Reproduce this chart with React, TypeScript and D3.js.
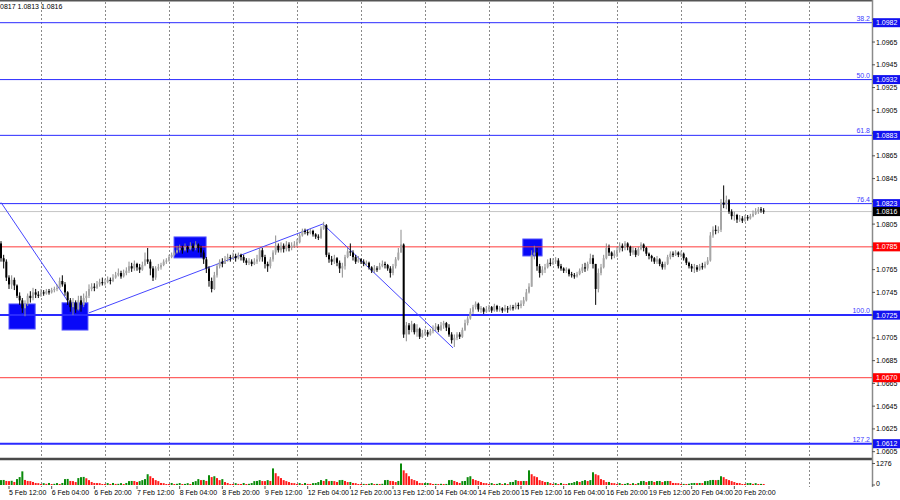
import React from "react";
import * as d3 from "d3";

// prices stored as pips above BASE
const BASE = 1.07;
const FIRST_OPEN = 88;
const CLOSES = [
  75,72,58,52,56,51,42,38,31,35,42,40,45,43,42,
  45,44,46,45,47,48,49,55,52,45,38,32,36,30,38,34,40,42,48,50,49,52,54,53,
  54,56,55,58,60,62,59,62,64,68,66,70,67,65,69,74,72,66,58,66,67,69,72,73,
  76,78,80,82,84,82,85,83,86,84,87,84,80,74,66,55,48,60,68,72,70,74,76,75,
  77,75,78,76,73,71,72,70,72,74,82,76,70,68,74,80,86,82,86,83,87,84,86,87,
  89,95,99,98,97,99,96,94,93,101,104,78,74,72,75,71,66,68,76,81,80,76,72,74,
  72,70,71,67,64,66,65,68,70,69,66,62,68,74,80,87,8,16,12,17,10,13,6,9,
  10,8,11,13,15,12,16,18,14,8,3,5,8,6,12,18,22,28,32,35,30,31,28,30,
  32,29,33,30,31,29,31,30,32,31,34,33,35,38,45,50,78,80,68,62,65,67,71,70,
  72,73,68,66,64,65,61,60,59,61,64,67,66,70,75,70,48,62,67,75,84,80,77,79,
  82,86,84,88,85,80,82,78,83,87,84,79,77,75,72,74,70,67,70,76,79,78,80,78,
  79,75,71,68,66,67,65,68,67,70,73,95,100,99,100,124,122,126,116,112,113,109,110,108,
  111,110,112,114,116,118,117,116,
];
const HIGHS = [
  90,78,74,60,60,58,52,45,40,38,44,46,49,48,46,
  48,47,48,48,49,50,52,58,60,54,46,40,40,38,42,42,44,46,52,53,53,55,57,58,
  57,59,58,61,63,66,64,65,67,72,71,73,71,70,72,80,84,74,68,68,70,71,74,75,
  78,80,82,86,87,86,88,86,89,88,90,88,86,82,76,68,58,63,70,74,75,77,79,78,
  80,79,80,79,78,75,75,74,75,78,84,84,78,72,76,82,95,88,89,88,90,89,89,90,
  92,97,101,101,100,101,100,97,96,103,107,105,80,77,78,76,73,71,78,84,88,82,78,77,
  75,74,73,72,68,69,68,71,73,72,70,68,70,76,84,100,88,19,18,20,18,17,14,12,
  13,12,13,16,18,17,19,20,19,17,10,8,10,10,14,21,24,31,34,37,36,33,32,33,
  34,33,35,34,33,32,34,33,34,34,36,36,38,41,48,53,82,86,84,70,68,70,74,75,
  75,76,75,70,67,67,66,63,62,63,66,70,71,72,79,78,70,66,70,78,88,87,81,82,
  85,89,88,90,89,86,85,84,85,89,88,85,80,78,76,77,75,72,72,78,81,81,82,81,
  81,80,76,72,70,70,69,70,71,72,76,98,103,104,103,127,139,130,127,118,116,114,113,112,
  113,113,114,117,119,120,120,119,
];
const LOWS = [
  72,66,55,48,48,47,40,34,27,24,33,36,38,40,40,
  41,42,43,43,44,45,46,48,50,42,34,28,25,27,29,28,32,36,40,46,46,48,50,51,
  51,53,52,54,57,59,57,58,60,62,63,64,64,62,64,68,70,60,55,56,64,65,68,70,
  72,75,77,79,80,79,81,80,82,81,82,80,76,70,62,50,45,47,58,66,67,70,72,72,
  74,72,74,73,71,69,69,68,69,70,72,72,66,63,66,72,78,80,80,80,81,81,82,84,
  85,88,94,96,95,96,94,92,91,92,100,76,71,69,70,68,62,58,65,75,77,73,70,71,
  70,68,68,65,62,62,63,65,67,66,64,58,60,66,73,80,5,2,8,10,8,6,4,5,
  7,6,7,9,11,10,11,13,11,6,0,-3,3,4,5,11,16,21,26,30,28,27,26,27,
  28,27,28,28,28,27,28,27,29,29,30,30,31,33,37,44,50,74,64,58,60,62,66,68,
  69,70,66,64,62,62,59,58,57,58,60,62,63,64,70,66,34,45,60,66,74,77,74,75,
  76,80,81,82,82,77,78,76,77,82,81,77,74,72,70,70,68,65,65,69,74,76,77,76,
  76,73,69,66,63,62,63,64,65,66,69,72,93,96,97,98,119,118,114,109,108,106,107,106,
  107,108,109,111,113,114,115,114,
];
const VOLUMES = [
  290,300,240,230,250,180,350,470,810,300,240,230,180,120,110,
  60,110,70,120,60,70,115,60,120,350,360,240,230,175,410,465,480,400,290,180,120,115,110,60,
  60,115,60,120,65,70,110,60,120,230,240,235,180,230,290,350,640,520,410,290,230,120,110,60,
  60,120,60,70,115,60,65,110,60,175,230,350,290,300,240,580,470,520,410,290,350,175,120,60,
  60,110,65,60,120,60,70,115,230,240,290,235,230,290,240,985,700,520,410,290,230,175,120,110,
  60,115,60,120,65,60,110,120,175,290,240,350,230,240,230,180,290,300,240,175,180,120,110,60,
  60,65,60,70,115,60,65,60,70,290,300,240,230,175,240,1276,870,700,520,350,290,230,120,110,
  115,120,110,60,65,60,70,60,65,290,300,240,175,120,230,240,465,520,350,290,240,175,120,110,
  60,115,60,65,120,60,110,60,175,180,290,240,230,240,235,870,640,520,465,290,240,175,180,115,
  60,115,60,120,65,60,110,120,175,230,180,240,290,235,290,755,640,580,350,290,175,180,120,110,
  60,115,60,65,120,60,110,60,120,230,240,175,230,240,180,235,240,175,230,240,235,120,115,110,
  60,65,60,70,115,120,110,120,115,230,240,290,300,290,300,520,465,350,290,230,175,120,115,60,
  60,115,120,65,110,60,65,60,
];

const X_LABELS = [
  "5 Feb 12:00", "6 Feb 04:00", "6 Feb 20:00", "7 Feb 12:00", "8 Feb 04:00", "8 Feb 20:00",
  "9 Feb 12:00", "12 Feb 04:00", "12 Feb 20:00", "13 Feb 12:00", "14 Feb 04:00", "14 Feb 20:00",
  "15 Feb 12:00", "16 Feb 04:00", "16 Feb 20:00", "19 Feb 12:00", "20 Feb 04:00", "20 Feb 20:00",
];
const X_LABEL_BARS = [3, 19, 35, 51, 67, 83, 99, 115, 131, 147, 163, 179, 195, 211, 227, 243, 259, 275];
const DAY_START_BARS = [15, 39, 63, 87, 111, 135, 159, 183, 207, 231, 255, 279, 303];

const PRICE_TICKS = [
  1.0985, 1.0965, 1.0945, 1.0925, 1.0905, 1.0885, 1.0865, 1.0845, 1.0825, 1.0805,
  1.0785, 1.0765, 1.0745, 1.0725, 1.0705, 1.0685, 1.0665, 1.0645, 1.0625, 1.0605,
];

const FIB_PRICES = [1.0982, 1.0932, 1.0883, 1.0823, 1.0725, 1.0612];
const FIB_NAMES = ["38.2", "50.0", "61.8", "76.4", "100.0", "127.2"];
const FIB_WIDTHS = [1, 1, 1, 1, 2, 2];
const RED_PRICES = [1.0785, 1.067];
const LAST_PRICE = 1.0816;

const TREND_SEGMENTS: [number, number][][] = [
  [[0, 1.0824], [25.5, 1.07357]],
  [[33, 1.0727], [120.7, 1.08051]],
  [[120.7, 1.08051], [169.5, 1.06962]],
];
const ZONES = [
  [3.0, 12.8, 1.07348, 1.07128],
  [22.9, 32.6, 1.07358, 1.07119],
  [64.9, 76.9, 1.07937, 1.07753],
  [195.7, 202.9, 1.07919, 1.0777],
];

const HEADER = "1.0817 1.0813 1.0816";

export default function App() {
  const W = 900, H = 500, AX = 872;
  const FONT = "'Liberation Sans', Arial, sans-serif";
  const x = d3.scaleLinear().domain([0, 327]).range([1, 873]);
  const y = d3.scaleLinear().domain([1.0612, 1.0982]).range([443.7, 22.7]);
  const vy = d3.scaleLinear().domain([0, 1276]).range([485, 463.5]);
  const p = (v: number) => BASE + v / 10000;

  const candles = CLOSES.map((c, i) => {
    const o = i === 0 ? FIRST_OPEN : CLOSES[i - 1];
    return {
      i,
      o: p(o),
      c: p(c),
      h: p(Math.max(HIGHS[i], o, c)),
      l: p(Math.min(LOWS[i], o, c)),
    };
  });

  const line = d3
    .line<[number, number]>()
    .x((d) => x(d[0]))
    .y((d) => y(d[1]));

  const fmt = d3.format(".4f");

  const boxPrices = [...FIB_PRICES, ...RED_PRICES, LAST_PRICE];
  const visibleTicks = PRICE_TICKS.filter(
    (t) => !boxPrices.some((b) => Math.abs(y(t) - y(b)) < 5)
  );

  return (
    <svg
      width={W}
      height={H}
      style={{ position: "absolute", left: 0, top: 0, background: "#fff" }}
      fontFamily={FONT}
    >
      <rect x={0} y={0} width={W} height={H} fill="#fff" />
      <defs>
        <clipPath id="main">
          <rect x={0} y={0} width={AX} height={458} />
        </clipPath>
      </defs>

      {/* vertical dotted grid */}
      {DAY_START_BARS.map((b) => (
        <line
          key={"g" + b}
          x1={Math.round(x(b)) + 0.5}
          x2={Math.round(x(b)) + 0.5}
          y1={2}
          y2={487}
          stroke="#8a8a8a"
          strokeWidth={1}
          strokeDasharray="2,2"
        />
      ))}

      <g clipPath="url(#main)">
        {/* zones */}
        {ZONES.map((z, k) => (
          <rect
            key={"z" + k}
            x={x(z[0])}
            y={y(z[2])}
            width={x(z[1]) - x(z[0])}
            height={y(z[3]) - y(z[2])}
            fill="#0808f8"
            stroke="#5050ff"
            strokeWidth={1}
          />
        ))}

        {/* horizontal levels */}
        <line x1={0} x2={AX} y1={y(LAST_PRICE)} y2={y(LAST_PRICE)} stroke="#c4c4c4" strokeWidth={1} />
        {RED_PRICES.map((pr) => (
          <line key={"r" + pr} x1={0} x2={AX} y1={y(pr)} y2={y(pr)} stroke="#ff3a3a" strokeWidth={1} />
        ))}
        {FIB_PRICES.map((pr, k) => (
          <line
            key={"f" + pr}
            x1={0}
            x2={AX}
            y1={y(pr)}
            y2={y(pr)}
            stroke="#2a2aff"
            strokeWidth={FIB_WIDTHS[k]}
          />
        ))}

        {/* trend lines */}
        {TREND_SEGMENTS.map((s, k) => (
          <path key={"t" + k} d={line(s) || ""} fill="none" stroke="#4646ff" strokeWidth={1} />
        ))}

        {/* candles */}
        {candles.map((d) => {
          const bull = d.c >= d.o;
          const cx = x(d.i);
          const top = y(Math.max(d.o, d.c));
          const bot = y(Math.min(d.o, d.c));
          return (
            <g key={"c" + d.i}>
              <line
                x1={cx}
                x2={cx}
                y1={y(d.h)}
                y2={y(d.l)}
                stroke={bull ? "#8c8c8c" : "#000"}
                strokeWidth={1}
              />
              <rect
                x={cx - 1}
                y={top}
                width={2}
                height={Math.max(1, bot - top)}
                fill={bull ? "#a6a6a6" : "#000"}
              />
            </g>
          );
        })}

        {/* fib labels */}
        {FIB_PRICES.map((pr, k) => (
          <text
            key={"fl" + pr}
            x={870}
            y={y(pr) - 2}
            textAnchor="end"
            fontSize={7}
            fill="#3c3cff"
          >
            {FIB_NAMES[k]}
          </text>
        ))}
      </g>

      {/* header text */}
      <text x={-5.8} y={9} fontSize={7} fill="#000">
        {HEADER}
      </text>

      {/* frame lines */}
      <line x1={0} x2={AX} y1={0.75} y2={0.75} stroke="#555" strokeWidth={1.5} />
      <line x1={0} x2={AX} y1={459} y2={459} stroke="#4a4a4a" strokeWidth={2.5} />
      <line x1={AX + 0.5} x2={AX + 0.5} y1={0} y2={487} stroke="#8a8a8a" strokeWidth={1.5} />

      {/* price ticks */}
      {PRICE_TICKS.map((t) => (
        <line key={"ptl" + t} x1={AX} x2={AX + 3} y1={y(t)} y2={y(t)} stroke="#555" />
      ))}
      {visibleTicks.map((t) => (
        <text key={"pt" + t} x={876} y={y(t) + 2.5} fontSize={7} fill="#000">
          {fmt(t)}
        </text>
      ))}

      {/* level price boxes */}
      {FIB_PRICES.map((pr) => (
        <g key={"fb" + pr}>
          <rect x={AX + 1} y={y(pr) - 4.5} width={W - AX - 1} height={9} fill="#1212f0" />
          <text x={876} y={y(pr) + 2.5} fontSize={7} fill="#fff">
            {fmt(pr)}
          </text>
        </g>
      ))}
      {RED_PRICES.map((pr) => (
        <g key={"rb" + pr}>
          <rect x={AX + 1} y={y(pr) - 4.5} width={W - AX - 1} height={9} fill="#ff0000" />
          <text x={876} y={y(pr) + 2.5} fontSize={7} fill="#fff">
            {fmt(pr)}
          </text>
        </g>
      ))}
      <rect x={AX + 1} y={y(LAST_PRICE) - 4.5} width={W - AX - 1} height={9} fill="#000" />
      <text x={876} y={y(LAST_PRICE) + 2.5} fontSize={7} fill="#fff">
        {fmt(LAST_PRICE)}
      </text>

      {/* volumes */}
      {VOLUMES.map((v, i) => {
        const up = i === 0 || v > VOLUMES[i - 1];
        return (
          <rect
            key={"v" + i}
            x={x(i) - 1}
            y={vy(v)}
            width={2}
            height={vy(0) - vy(v)}
            fill={up ? "#0a8a0a" : "#ff1a1a"}
          />
        );
      })}
      <line x1={AX} x2={AX + 3} y1={vy(1276)} y2={vy(1276)} stroke="#555" />
      <text x={876} y={vy(1276) + 2.5} fontSize={7} fill="#000">
        1276
      </text>
      <line x1={AX} x2={AX + 3} y1={vy(0)} y2={vy(0)} stroke="#555" />
      <text x={876} y={vy(0) + 1} fontSize={7} fill="#000">
        0
      </text>

      {/* time labels */}
      {X_LABELS.map((lab, k) => (
        <g key={"xl" + k}>
          <line
            x1={x(X_LABEL_BARS[k])}
            x2={x(X_LABEL_BARS[k])}
            y1={486}
            y2={489}
            stroke="#555"
          />
          <text x={x(X_LABEL_BARS[k])} y={495} fontSize={7} fill="#000">
            {lab}
          </text>
        </g>
      ))}
    </svg>
  );
}
